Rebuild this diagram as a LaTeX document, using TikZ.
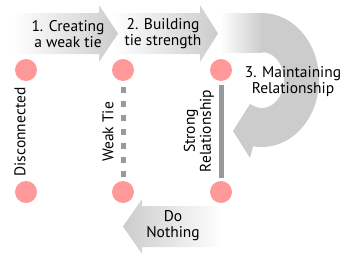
\documentclass[tikz,border=0pt]{standalone}
\usepackage{fontspec}
\setmainfont{PT Sans}
\usepackage{tikz}
\usetikzlibrary{calc,positioning}
\definecolor{dot-pink}{HTML}{FF9999}
\definecolor{band-gray}{HTML}{CCCCCC}
\definecolor{tie-gray}{HTML}{999999}

\begin{document}
\begin{tikzpicture}[x=1pt, y=1pt,
    dot/.style={circle, fill=dot-pink, minimum size=22pt, inner sep=0pt},
    lbl/.style={align=center, font=\fontsize{15.5}{16}\selectfont, inner sep=0pt},
    band/.style={left color=white, right color=band-gray, draw=none},
    weaktie/.style={draw=tie-gray, line width=5pt, dash pattern=on 6pt off 8pt, shorten <=6pt, shorten >=4pt},
    strongtie/.style={draw=tie-gray, line width=5pt, shorten <=4pt, shorten >=3pt}]
    \useasboundingbox (0,0) rectangle (350,-260);
    % step arrows
    \shade[band] (112,-13) -- (200,-13) -- (200,-5) -- (218,-33.5) -- (200,-62) -- (200,-54) -- (112,-54) -- cycle;
    \shade[band] (12,-13) -- (99,-13) -- (99,-5) -- (118,-33.5) -- (99,-62) -- (99,-54) -- (12,-54) -- cycle;
    % maintaining loop
    \fill[band-gray] (262,-13) arc[start angle=90, end angle=-99, x radius=57, y radius=67]
        -- (250,-158) -- (233,-131) -- (250,-104) -- (253.05,-105.6)
        arc[start angle=-114, end angle=90, x radius=22, y radius=28] -- cycle;
    \shade[band] (220,-13) rectangle (262.5,-52);
    % do nothing arrow
    \shade[left color=band-gray, right color=white] (222,-206) -- (142,-206) -- (142,-199) -- (123,-226.5)
        -- (142,-254) -- (142,-247) -- (222,-247) -- cycle;
    % states
    \foreach \i/\x in {0/26, 1/123, 2/221} {
        \node[dot] (top\i) at (\x,-70) {};
        \node[dot] (bot\i) at (\x,-192) {};
    }
    \draw[weaktie] (top1) -- (bot1);
    \draw[strongtie] (top2) -- (bot2);
    % labels
    \node[lbl] (step1) at (68,-34) {1. Creating\\a weak tie};
    \node[lbl] (step2) at (163,-34) {2. Building\\tie strength};
    \node[lbl] (step3) at (293,-82) {3. Maintaining\\Relationship};
    \node[lbl] (step4) at (173,-226) {Do\\Nothing};
    \node[lbl, rotate=90] (disc) at (20,-132) {Disconnected};
    \node[lbl, rotate=90] (weak) at (108,-132) {Weak Tie};
    \node[lbl, rotate=90] (strong) at (199,-131) {Strong\\Relationship};
\end{tikzpicture}
\end{document}
